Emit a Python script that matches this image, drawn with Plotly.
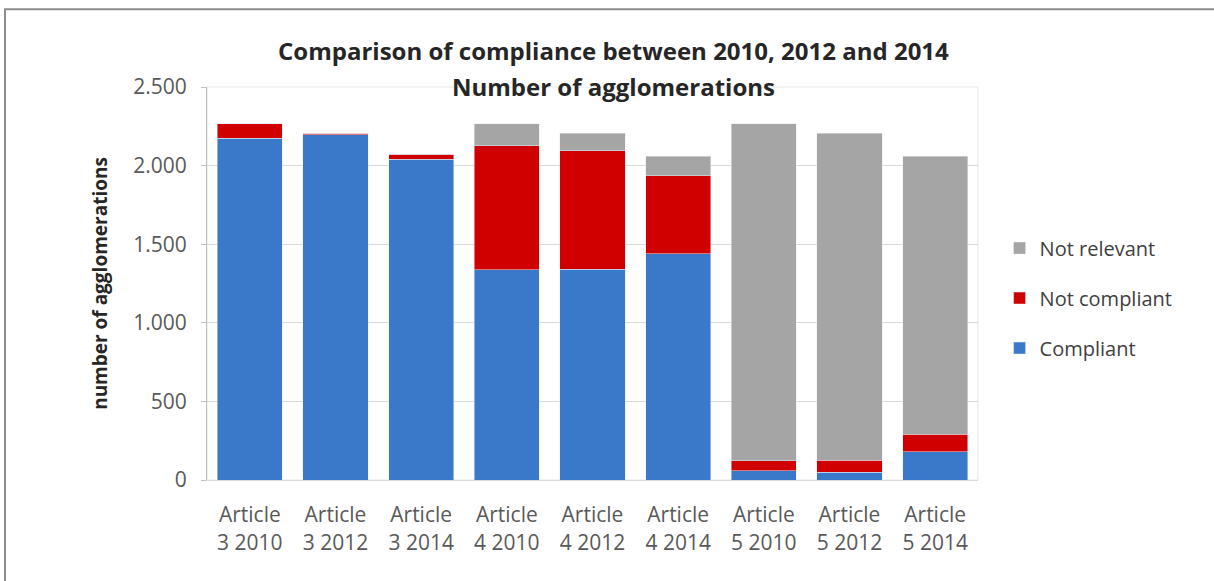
import plotly.graph_objects as go

categories = ["Article<br>3 2010", "Article<br>3 2012", "Article<br>3 2014",
              "Article<br>4 2010", "Article<br>4 2012", "Article<br>4 2014",
              "Article<br>5 2010", "Article<br>5 2012", "Article<br>5 2014"]
compliant = [2174, 2196, 2040, 1338, 1342, 1439, 60, 50, 180]
not_compliant = [91, 10, 32, 789, 753, 496, 61, 75, 110]
not_relevant = [0, 0, 0, 138, 111, 126, 2144, 2081, 1771]
y_ticks = [0, 500, 1000, 1500, 2000, 2500]

BLUE = "#3a78c9"
RED = "#d00000"
GRAY = "#a5a5a5"
FONT = "Open Sans"

fig = go.Figure()
fig.add_trace(go.Bar(x=categories, y=compliant, name="Compliant",
                     marker_color=BLUE, legendgroup="c", legendrank=3))
fig.add_trace(go.Bar(x=categories, y=not_compliant, name="Not compliant",
                     marker_color=RED, legendgroup="nc", legendrank=2))
fig.add_trace(go.Bar(x=categories, y=not_relevant, name="Not relevant",
                     marker_color=GRAY, legendgroup="nr", legendrank=1))

fig.update_layout(
    barmode="stack", bargap=0.24,
    width=1214, height=581,
    margin=dict(l=207, r=236, t=87, b=101),
    paper_bgcolor="white", plot_bgcolor="white",
    separators=",.",
    font=dict(family=FONT, color="#595959", size=21),
    legend=dict(
        traceorder="grouped", x=1.028, y=0.463, xanchor="left", yanchor="middle",
        font=dict(size=20, color="#404040"), itemwidth=30, tracegroupgap=21,
    ),
    showlegend=True,
)
fig.add_annotation(text="<b>Comparison of compliance between 2010, 2012 and 2014</b>",
                   xref="paper", yref="paper", x=0.527, y=1.094, showarrow=False,
                   xanchor="center", yanchor="middle",
                   font=dict(family=FONT, size=24, color="#262626"))
fig.add_annotation(text="<b>Number of agglomerations</b>",
                   xref="paper", yref="paper", x=0.527, y=1.002, showarrow=False,
                   xanchor="center", yanchor="middle",
                   font=dict(family=FONT, size=24, color="#262626"))

fig.update_xaxes(showline=True, linecolor="#d9d9d9", ticks="", tickfont=dict(size=21),
                 ticklabelstandoff=16)
fig.update_yaxes(
    range=[0, 2500], tickvals=y_ticks, tickformat=",d",
    showgrid=True, gridcolor="#d9d9d9", zeroline=False,
    showline=True, linecolor="#bfbfbf", ticks="outside", ticklen=5, tickcolor="#bfbfbf",
    tickfont=dict(size=21), ticklabelstandoff=10,
    title=dict(text="<b>number of agglomerations</b>", font=dict(size=19, color="#262626"), standoff=20),
)
# light border on top and right of plot area
fig.add_shape(type="rect", xref="paper", yref="paper", x0=0, x1=1, y0=0, y1=1,
              line=dict(color="#e6e6e6", width=1), layer="below")
# outer chart frame (top and left visible)
fig.add_shape(type="rect", xref="paper", yref="paper", x0=-0.262, x1=1.4, y0=-0.4, y1=1.198,
              line=dict(color="#8c8c8c", width=2))

fig.write_html("out.html", config={"displayModeBar": False},
               post_script="document.body.style.margin='0px';")
